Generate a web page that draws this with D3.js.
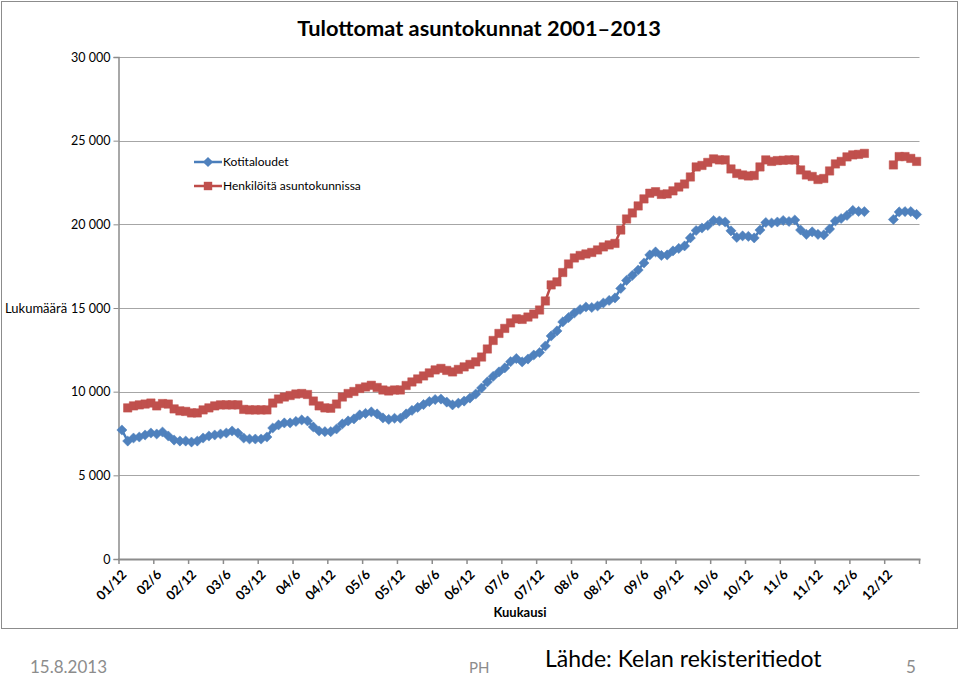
<!DOCTYPE html>
<html><head><meta charset="utf-8">
<script src="https://cdn.jsdelivr.net/npm/d3@7"></script>
<style>
body{margin:0;background:#fff}
svg{display:block}
text{font-family:Lato,"Open Sans",sans-serif}
</style>
</head><body>
<svg id="chart" width="960" height="677"></svg>
<script>
// ---- data ----
const title = "Tulottomat asuntokunnat 2001\u20132013";
const seriesNames = ["Kotitaloudet", "Henkilöitä asuntokunnissa"];
const startYear = 2001, startMonth = 12, monthCount = 138;
const yTickValues = [0, 5000, 10000, 15000, 20000, 25000, 30000];
const kotitaloudet = [7710,7050,7230,7290,7410,7530,7470,7590,7350,7110,
7050,7050,6990,7050,7230,7350,7410,7470,7530,7650,
7530,7230,7170,7170,7170,7290,7830,8010,8130,8130,
8220,8310,8250,7890,7650,7610,7610,7770,8070,8250,
8370,8610,8700,8790,8670,8430,8340,8410,8410,8670,
8880,9060,9230,9410,9530,9560,9380,9210,9310,9440,
9620,9860,10220,10580,10910,11180,11420,11790,11980,11780,
11950,12190,12340,12730,13330,13630,14170,14430,14700,14910,
15060,15030,15120,15300,15450,15600,16170,16650,16950,17270,
17690,18170,18350,18140,18170,18410,18560,18710,19190,19630,
19780,19930,20230,20200,20140,19610,19220,19310,19280,19190,
19660,20110,20080,20140,20230,20170,20260,19660,19400,19550,
19400,19370,19720,20200,20350,20530,20830,20770,20760,
null,null,null,null,
20290,20740,20760,20760,20590];
const henkiloita = [null,9030,9150,9210,9260,9320,9150,9290,9260,8970,
8850,8820,8730,8730,8910,9030,9150,9210,9210,9210,
9210,8940,8910,8910,8910,8910,9320,9560,9680,9770,
9860,9890,9830,9440,9150,9030,9010,9260,9680,9890,
10010,10190,10280,10380,10250,10100,10040,10100,10100,10370,
10580,10760,10940,11120,11300,11390,11270,11180,11330,11480,
11630,11780,12070,12550,13060,13480,13780,14110,14350,14320,
14460,14640,14880,15420,16380,16560,17120,17630,17990,18140,
18230,18320,18470,18650,18770,18860,19660,20320,20680,21100,
21520,21860,21950,21790,21820,22000,22230,22410,22830,23430,
23520,23700,23910,23850,23850,23310,23040,22950,22890,22920,
23430,23850,23760,23810,23830,23850,23850,23250,22950,22860,
22680,22740,23190,23610,23760,24030,24150,24180,24240,
null,null,null,null,
23550,24050,24050,23940,23760];
const footer = {date: "15.8.2013", author: "PH", source: "Lähde: Kelan rekisteritiedot", page: "5"};

// categories (month labels yy/m)
const categories = d3.range(monthCount).map(i => {
  const m0 = startMonth - 1 + i;
  const y = startYear + Math.floor(m0 / 12);
  const m = (m0 % 12) + 1;
  return String(y % 100).padStart(2, "0") + "/" + m;
});

// ---- drawing ----
const svg = d3.select("#chart");
const plot = {left: 119, right: 919.5, top: 57, bottom: 559};

svg.append("rect").attr("x", 1.5).attr("y", 1.5).attr("width", 956).attr("height", 627)
  .attr("fill", "#fff").attr("stroke", "#8c8c8c").attr("stroke-width", 1);

const x = d3.scaleBand().domain(categories).range([plot.left, plot.right]).paddingInner(0).paddingOuter(0);
const y = d3.scaleLinear().domain([0, 30000]).range([plot.bottom, plot.top]);
const cx = c => x(c) + x.bandwidth() / 2;

// gridlines
svg.append("g").selectAll("line").data(yTickValues.filter(v => v > 0)).join("line")
  .attr("x1", plot.left).attr("x2", plot.right)
  .attr("y1", d => Math.round(y(d)) + 0.5).attr("y2", d => Math.round(y(d)) + 0.5)
  .attr("stroke", "#a6a6a6").attr("stroke-width", 1);

// y axis
const fmt = v => d3.format(",")(v).replace(/,/g, " ");
const yAxis = svg.append("g").attr("transform", `translate(${plot.left - 0.5},0)`)
  .call(d3.axisLeft(y).tickValues(yTickValues).tickSize(5).tickPadding(3).tickFormat(fmt));
yAxis.select(".domain").attr("stroke", "#8c8c8c").attr("stroke-width", 1.5);
yAxis.selectAll(".tick line").attr("stroke", "#8c8c8c");
yAxis.selectAll(".tick text").attr("font-size", 12.5).attr("fill", "#000")
  .style("font-family", "Lato, sans-serif");

// x axis
const tickIdx = d3.range(0, monthCount + 1, 6);
const tickX = i => i < monthCount ? x(categories[i]) : plot.right;
const xg = svg.append("g");
xg.append("line").attr("x1", plot.left - 1).attr("x2", plot.right + 1)
  .attr("y1", plot.bottom + 0.5).attr("y2", plot.bottom + 0.5)
  .attr("stroke", "#8c8c8c").attr("stroke-width", 2);
xg.selectAll("line.t").data(tickIdx).join("line").attr("class", "t")
  .attr("x1", d => tickX(d)).attr("x2", d => tickX(d))
  .attr("y1", plot.bottom).attr("y2", plot.bottom + 5)
  .attr("stroke", "#8c8c8c").attr("stroke-width", 1.5);
xg.selectAll("text").data(tickIdx.filter(i => i < monthCount)).join("text")
  .attr("transform", d => `translate(${tickX(d) + 2},${plot.bottom + 10}) rotate(-45)`)
  .attr("text-anchor", "end").attr("font-size", 13).attr("font-weight", "bold")
  .attr("dy", "0.7em")
  .text(d => categories[d]);

// axis titles
svg.append("text").attr("x", 520).attr("y", 617).attr("text-anchor", "middle")
  .attr("font-size", 13).attr("font-weight", "bold").text("Kuukausi");
svg.append("text").attr("x", 5).attr("y", 313).attr("font-size", 13).text("Lukumäärä");

// title
svg.append("text").attr("x", 479).attr("y", 36).attr("text-anchor", "middle")
  .attr("font-size", 21.8).attr("font-weight", "bold").text(title);

// series
const blue = "#4a7ebb", blueMk = "#4f81bd", red = "#be4b48", redMk = "#c0504d";
const diamond = r => `M0,${-r}L${r},0L0,${r}L${-r},0Z`;
const square = s => `M${-s},${-s}H${s}V${s}H${-s}Z`;

function drawSeries(values, color, mkColor, shape) {
  const pts = values.map((v, i) => ({c: categories[i], v}));
  const line = d3.line().defined(d => d.v != null).x(d => cx(d.c)).y(d => y(d.v));
  svg.append("path").datum(pts).attr("d", line).attr("fill", "none")
    .attr("stroke", color).attr("stroke-width", 2.5).attr("stroke-linejoin", "round");
  svg.append("g").selectAll("path").data(pts.filter(d => d.v != null)).join("path")
    .attr("transform", d => `translate(${cx(d.c)},${y(d.v)})`)
    .attr("d", shape).attr("fill", mkColor).attr("stroke", mkColor).attr("stroke-width", 0.5);
}
drawSeries(kotitaloudet, blue, blueMk, diamond(5.1));
drawSeries(henkiloita, red, redMk, square(4.2));

// legend
const lg = svg.append("g");
const legendItems = [
  {name: seriesNames[0], color: blue, mk: blueMk, shape: diamond(5.1), yy: 162},
  {name: seriesNames[1], color: red, mk: redMk, shape: square(4.2), yy: 186}
];
legendItems.forEach(d => {
  lg.append("line").attr("x1", 194).attr("x2", 222).attr("y1", d.yy).attr("y2", d.yy)
    .attr("stroke", d.color).attr("stroke-width", 2.5);
  lg.append("path").attr("transform", `translate(208,${d.yy})`).attr("d", d.shape).attr("fill", d.mk);
  lg.append("text").attr("x", 223).attr("y", d.yy).attr("dy", "0.35em").attr("font-size", 12).text(d.name);
});

// footer
svg.append("text").attr("x", 30).attr("y", 673).attr("font-size", 17).attr("fill", "#8c8c8c").text(footer.date);
svg.append("text").attr("x", 469).attr("y", 673).attr("font-size", 15).attr("fill", "#8c8c8c").text(footer.author);
svg.append("text").attr("x", 545).attr("y", 667).attr("font-size", 23).attr("fill", "#000").text(footer.source);
svg.append("text").attr("x", 906).attr("y", 673).attr("font-size", 17).attr("fill", "#8c8c8c").text(footer.page);
</script>
</body></html>
